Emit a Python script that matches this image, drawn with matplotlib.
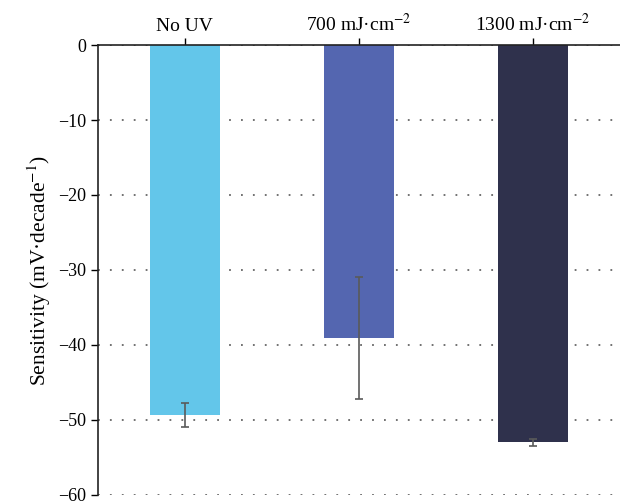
import numpy as np
import matplotlib
matplotlib.use("Agg")
import matplotlib.pyplot as plt

# UV dose groups and measured sensitivity (mean +/- sd)
labels = ["No UV", "700 mJ\u00b7cm$^{-2}$", "1300 mJ\u00b7cm$^{-2}$"]
sensitivity = [-49.4, -39.1, -53.0]
errors = [1.6, 8.1, 0.5]
colors = ["#63C6EA", "#5466B0", "#2F314C"]

plt.rcParams["font.family"] = ["Liberation Serif", "DejaVu Serif"]
plt.rcParams["mathtext.fontset"] = "stix"

fig = plt.figure(figsize=(6.2, 5.04), dpi=100)
ax = fig.add_axes([0.1575, 0.0179, 0.8425, 0.8928])

x = np.arange(len(labels))
ax.bar(x, sensitivity, width=0.4, color=colors, zorder=2)
ax.errorbar(x, sensitivity, yerr=errors, fmt="none", ecolor="#5a5a5a",
            elinewidth=1.2, capsize=3, capthick=1.2, zorder=3)

ax.set_xlim(-0.5, 2.5)
ax.set_ylim(-60, 0)
ax.set_yticks(np.arange(-60, 1, 10))

# category labels sit along the zero line at the top
ax.xaxis.tick_top()
ax.set_xticks(x)
ax.set_xticklabels(labels, fontsize=14)
ax.tick_params(axis="x", direction="out", length=5, width=1, pad=2)
ax.tick_params(axis="y", direction="out", length=5, width=1, labelsize=13, pad=3)

ax.set_ylabel("Sensitivity (mV\u00b7decade$^{-1}$)", fontsize=15.5, labelpad=4)

for side in ["right", "bottom"]:
    ax.spines[side].set_visible(False)
for side in ["left", "top"]:
    ax.spines[side].set_linewidth(1.2)
    ax.spines[side].set_color("#222222")

ax.yaxis.grid(True, linestyle=(0, (1, 5.6)), color="#666666", linewidth=1.3, zorder=0)
ax.set_axisbelow(True)

fig.savefig("out.png", dpi=100)
